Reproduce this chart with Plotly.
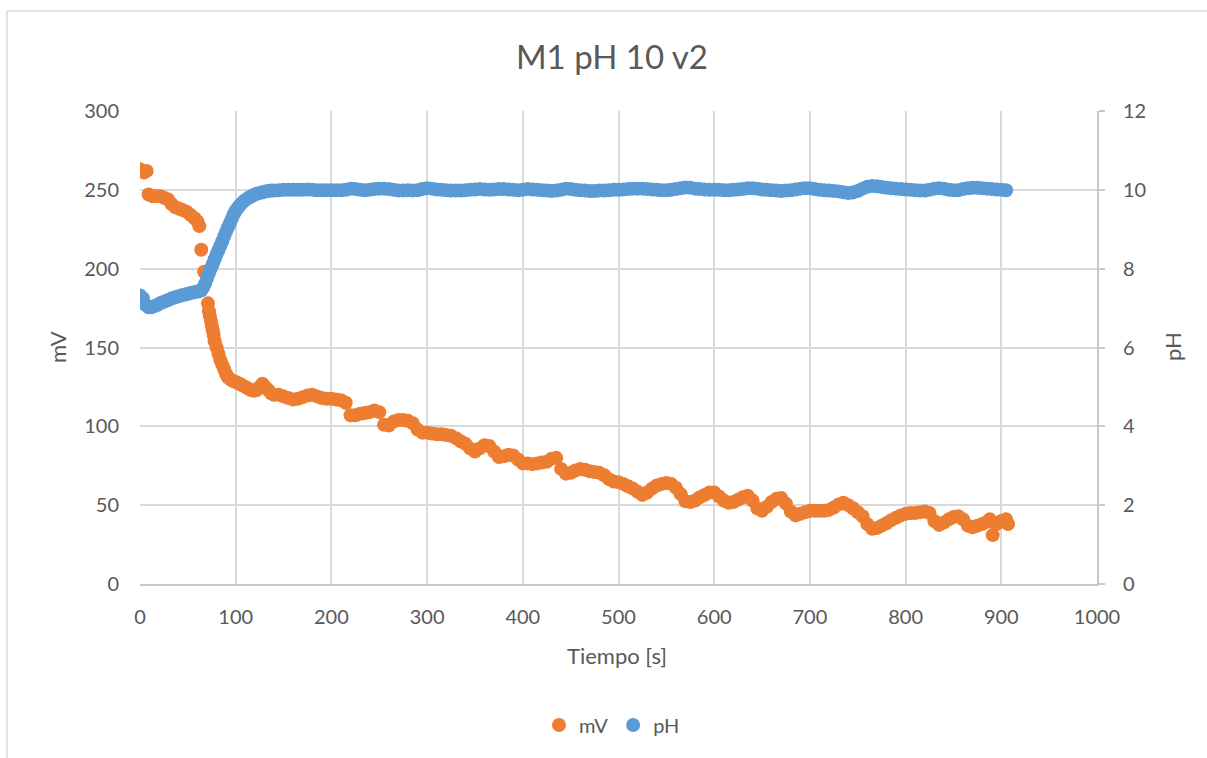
import plotly.graph_objects as go

# ---- mV readings (left axis) ----
t_mv = [
    0, 4, 7, 9, 13, 17, 21, 25, 29, 33,
    37, 41, 45, 49, 53, 57, 60, 62, 64, 67,
    71, 72, 73, 74, 75, 76, 77, 78, 80, 82,
    84, 86, 88, 90, 92, 95, 98, 101, 104, 107,
    110, 113, 116, 119, 122, 125, 128, 131, 134, 137,
    140,
    145, 150, 155, 160, 165, 170, 175, 180, 185, 190,
    195, 200, 205, 210, 215, 220, 225, 230, 235, 240,
    245, 250, 255, 260, 265, 270, 275, 280, 285, 290,
    295, 300, 305, 310, 315, 320, 325, 330, 335, 340,
    345, 350, 355, 360, 365, 370, 375, 380, 385, 390,
    395, 400, 405, 410, 415, 420, 425, 430, 435, 440,
    445, 450, 455, 460, 465, 470, 475, 480, 485, 490,
    495, 500, 505, 510, 515, 520, 525, 530, 535, 540,
    545, 550, 555, 560, 565, 570, 575, 580, 585, 590,
    595, 600, 605, 610, 615, 620, 625, 630, 635, 640,
    645, 650, 655, 660, 665, 670, 675, 680, 685, 690,
    695, 700, 705, 710, 715, 720, 725, 730, 735, 740,
    745, 750, 755, 760, 765, 770, 775, 780, 785, 790,
    795, 800, 805, 810, 815, 820, 825, 830, 835, 840,
    845, 850, 855, 860, 865, 870, 875, 880, 885,
    888, 891, 895, 900, 905, 907,
]
mv = [
    263, 261, 262, 247, 246, 246, 246, 245, 244, 241,
    239, 238, 237, 236, 234, 232, 230, 227, 212, 198,
    178, 173, 170, 167, 164, 161, 158, 154, 150, 146,
    142, 139, 136, 133, 131, 129.5, 128.5, 128, 127, 126,
    125, 124, 123, 122.5, 123, 125, 127, 125, 123, 121,
    120,
    120, 119, 118, 117, 117.5, 118.5, 119.5, 120, 119, 118,
    117.5, 117.5, 117, 116.5, 115, 107, 107, 108, 108.5, 109,
    110, 109, 101, 100.5, 103, 104, 104, 103.5, 102, 98,
    96, 96, 95.5, 95, 95, 94.5, 94, 92.5, 90.5, 89,
    86, 84, 86, 88, 87.5, 84, 80.5, 81, 82, 81.5,
    79, 76.5, 76.5, 76, 76.5, 77, 77.5, 79.5, 80, 73,
    70, 70.5, 72, 73, 72.5, 71.5, 71, 70.5, 69, 66.5,
    65, 64.5, 63.5, 62, 60.5, 58.5, 56.5, 58, 60.5, 62.5,
    63.5, 64, 63.5, 61, 57, 52.5, 52, 53, 55, 56.5,
    58, 58, 55.5, 53, 51.5, 52, 53.5, 55, 56, 53,
    48, 46.5, 49, 52, 54, 54.5, 51, 46, 43.5, 44.5,
    45.5, 46.5, 46.5, 46.5, 46.5, 47, 48.5, 50.5, 51.5, 50,
    48, 45.5, 43, 38, 35, 35.5, 37, 38.5, 40.5, 42,
    43.5, 44.5, 45, 45, 45.5, 46, 45, 40, 37.5, 39,
    41, 42.5, 43, 41, 37, 36, 37, 38, 39.5,
    41, 31, 38, 40, 41, 38,
]

# ---- pH readings (right axis) ----
t_ph = [
    0, 3, 6, 9, 12, 15, 18, 21, 24, 27,
    30, 33, 36, 39, 42, 45, 48, 51, 54, 57,
    60, 62, 64, 66, 68, 70, 72, 74, 76, 78,
    80, 82, 84, 86, 88, 90, 92, 94, 96, 98,
    100, 102, 104, 106, 108, 110, 113, 116, 119, 122,
    125, 128, 131, 134, 137, 140,
    145, 150, 155, 160, 165, 170, 175, 180, 185, 190,
    195, 200, 205, 210, 215, 220, 225, 230, 235, 240,
    245, 250, 255, 260, 265, 270, 275, 280, 285, 290,
    295, 300, 305, 310, 315, 320, 325, 330, 335, 340,
    345, 350, 355, 360, 365, 370, 375, 380, 385, 390,
    395, 400, 405, 410, 415, 420, 425, 430, 435, 440,
    445, 450, 455, 460, 465, 470, 475, 480, 485, 490,
    495, 500, 505, 510, 515, 520, 525, 530, 535, 540,
    545, 550, 555, 560, 565, 570, 575, 580, 585, 590,
    595, 600, 605, 610, 615, 620, 625, 630, 635, 640,
    645, 650, 655, 660, 665, 670, 675, 680, 685, 690,
    695, 700, 705, 710, 715, 720, 725, 730, 735, 740,
    745, 750, 755, 760, 765, 770, 775, 780, 785, 790,
    795, 800, 805, 810, 815, 820, 825, 830, 835, 840,
    845, 850, 855, 860, 865, 870, 875, 880, 885, 890,
    895, 900, 905,
]
ph = [
    7.32, 7.25, 7.08, 7.02, 7.02, 7.05, 7.08, 7.12, 7.15, 7.18,
    7.21, 7.24, 7.27, 7.29, 7.31, 7.33, 7.35, 7.37, 7.39, 7.40,
    7.42, 7.43, 7.45, 7.52, 7.62, 7.75, 7.88, 8.0, 8.12, 8.24,
    8.36, 8.47, 8.58, 8.7, 8.82, 8.94, 9.05, 9.16, 9.27, 9.38,
    9.47, 9.54, 9.6, 9.65, 9.7, 9.74, 9.79, 9.83, 9.87, 9.9,
    9.92, 9.94, 9.96, 9.97, 9.98, 9.98,
    9.99, 10.0, 10.0, 10.0, 10.0, 10.0, 10.01, 10.0, 9.99, 9.99,
    9.99, 9.99, 9.99, 9.99, 10.0, 10.03, 10.02, 10.0, 9.99, 10.0,
    10.02, 10.03, 10.03, 10.02, 10.0, 9.98, 9.98, 9.99, 9.98, 9.99,
    10.02, 10.04, 10.03, 10.01, 10.0, 9.99, 9.98, 9.98, 9.98, 9.99,
    10.0, 10.01, 10.02, 10.01, 10.0, 10.01, 10.02, 10.02, 10.01, 10.0,
    9.99, 10.0, 10.02, 10.01, 10.0, 9.99, 9.98, 9.97, 9.98, 10.0,
    10.03, 10.02, 10.0, 9.99, 9.98, 9.97, 9.97, 9.98, 9.98, 9.99,
    10.0, 10.0, 10.01, 10.02, 10.03, 10.03, 10.03, 10.02, 10.01, 10.0,
    9.99, 9.99, 10.0, 10.02, 10.04, 10.06, 10.05, 10.03, 10.02, 10.01,
    10.0, 10.0, 10.0, 9.99, 9.99, 10.0, 10.01, 10.02, 10.04, 10.04,
    10.03, 10.01, 10.0, 9.99, 9.98, 9.97, 9.98, 9.99, 10.01, 10.03,
    10.04, 10.04, 10.02, 10.0, 9.99, 9.98, 9.97, 9.96, 9.94, 9.92,
    9.93, 9.97, 10.03, 10.08, 10.1, 10.09, 10.07, 10.05, 10.04, 10.03,
    10.02, 10.01, 10.0, 9.99, 9.98, 9.98, 10.0, 10.03, 10.04, 10.03,
    10.0, 9.99, 9.99, 10.02, 10.04, 10.05, 10.05, 10.04, 10.03, 10.02,
    10.01, 10.0, 9.99,
]

assert len(t_mv) == len(mv) and len(t_ph) == len(ph)

ORANGE = "#ED7D31"
BLUE = "#5B9BD5"
TEXT = "#595959"
GRID = "#D9D9D9"
AXIS = "#C8C8C8"
FONT = "Lato"
MARKER = 14

fig = go.Figure()
fig.add_trace(go.Scatter(
    x=t_mv, y=mv, name="mV", mode="markers", yaxis="y",
    marker=dict(color=ORANGE, size=MARKER, line=dict(width=0)),
))
fig.add_trace(go.Scatter(
    x=t_ph, y=ph, name="pH", mode="markers", yaxis="y2",
    marker=dict(color=BLUE, size=MARKER, line=dict(width=0)),
))

# plot-area geometry in pixels, used to place the outer chart frame
L, R, T, B = 140, 110, 111, 174
W, H = 1207, 758
pw, ph_px = W - L - R, H - T - B


def px_x(p):
    return (p - L) / pw


def px_y(p):
    return (H - B - p) / ph_px


fig.update_layout(
    width=W, height=H,
    margin=dict(l=L, r=R, t=T, b=B, autoexpand=False),
    paper_bgcolor="white", plot_bgcolor="white",
    font=dict(family=FONT, color=TEXT, size=20),
    title=dict(text="M1 pH 10 v2", x=0.507, xref="container", xanchor="center",
               y=1 - 57 / H, yref="container", yanchor="middle",
               font=dict(family=FONT, size=33, color=TEXT)),
    xaxis=dict(range=[0, 1000], tick0=0, dtick=100, showgrid=True,
               gridcolor=GRID, gridwidth=1.5, zeroline=False,
               showline=True, linecolor=AXIS, linewidth=2, ticks="",
               tickfont=dict(size=20, color=TEXT), ticklabelstandoff=14),
    yaxis=dict(range=[0, 300], tick0=0, dtick=50, showgrid=True,
               gridcolor=GRID, gridwidth=1.5, zeroline=False, showline=False,
               ticks="", tickfont=dict(size=20, color=TEXT),
               ticklabelstandoff=20),
    yaxis2=dict(range=[0, 12], tick0=0, dtick=2, overlaying="y", side="right",
                showgrid=False, zeroline=False, showline=True, linecolor=AXIS,
                linewidth=2, ticks="outside", ticklen=6, tickcolor=AXIS,
                tickwidth=1.5, tickfont=dict(size=20, color=TEXT),
                ticklabelstandoff=14),
    showlegend=True,
    legend=dict(orientation="h", x=px_x(612), xanchor="center",
                y=px_y(725), yanchor="middle", font=dict(size=20, color=TEXT),
                bgcolor="rgba(0,0,0,0)"),
    annotations=[
        dict(text="mV", x=px_x(57), y=px_y(347), xref="paper", yref="paper",
             textangle=-90, showarrow=False, font=dict(size=22, color=TEXT),
             xanchor="center", yanchor="middle"),
        dict(text="pH", x=px_x(1172), y=px_y(347), xref="paper", yref="paper",
             textangle=-90, showarrow=False, font=dict(size=22, color=TEXT),
             xanchor="center", yanchor="middle"),
        dict(text="Tiempo [s]", x=px_x(617), y=px_y(655), xref="paper",
             yref="paper", showarrow=False, font=dict(size=22, color=TEXT),
             xanchor="center", yanchor="middle"),
    ],
    shapes=[
        dict(type="line", xref="paper", yref="paper", x0=px_x(7), x1=px_x(7),
             y0=px_y(11), y1=px_y(H), line=dict(color=GRID, width=1.5)),
        dict(type="line", xref="paper", yref="paper", x0=px_x(7), x1=px_x(W),
             y0=px_y(11), y1=px_y(11), line=dict(color=GRID, width=1.5)),
    ],
)

fig.write_html("out.html")
